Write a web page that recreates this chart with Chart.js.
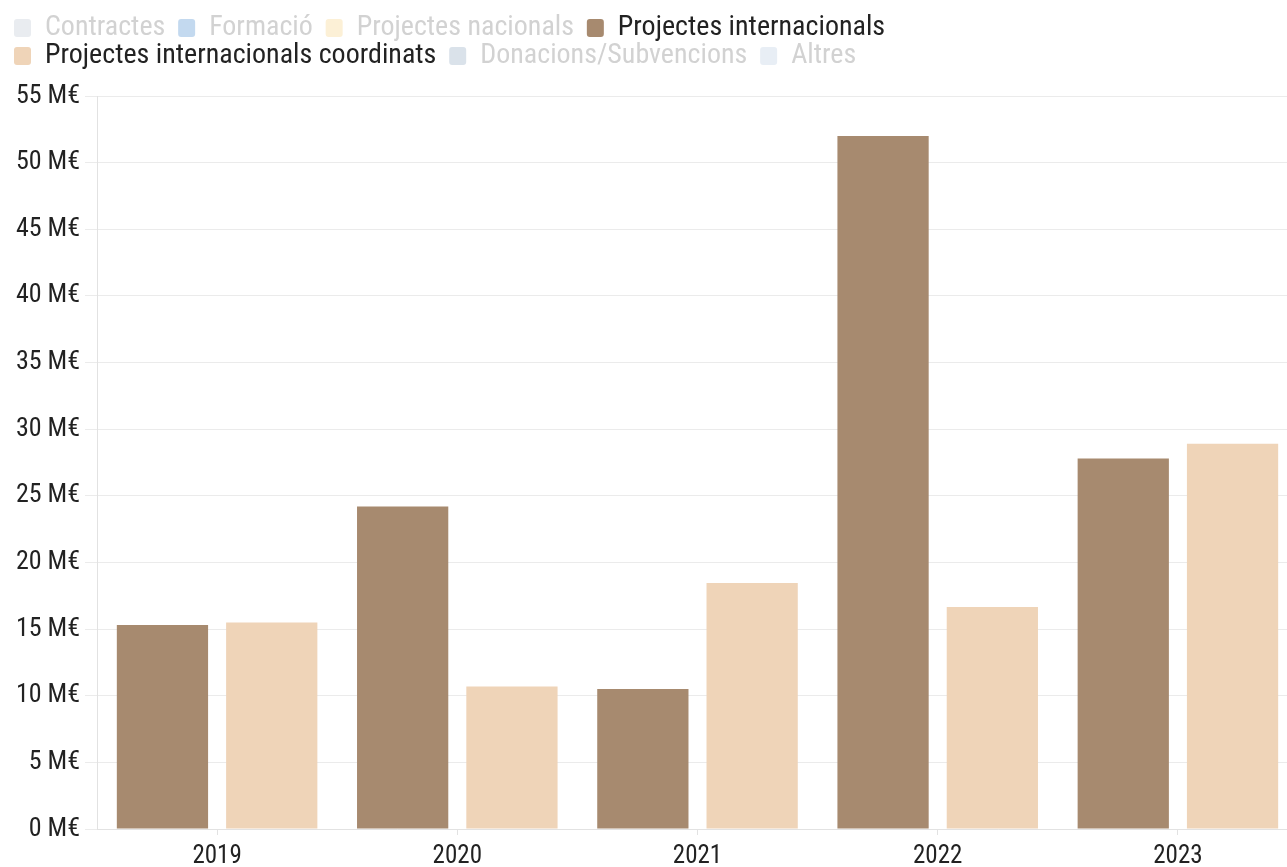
<!DOCTYPE html>
<html>
<head>
<meta charset="utf-8">
<script src="https://cdn.jsdelivr.net/npm/chart.js@4"></script>
<style>
  html, body { margin: 0; padding: 0; overflow: hidden; background: #fff; }
  #wrap { width: 1298px; height: 867px; }
</style>
</head>
<body>
<div id="wrap"><canvas id="myChart"></canvas></div>
<script>
const years = ["2019", "2020", "2021", "2022", "2023"];

// only these two series are shown in the picture
const internacionals = [15.3, 24.2, 10.5, 52.0, 27.8];
const coordinats = [15.5, 10.7, 18.45, 16.65, 28.9];

const seriesNames = [
  "Contractes", "Formació", "Projectes nacionals", "Projectes internacionals",
  "Projectes internacionals coordinats", "Donacions/Subvencions", "Altres"
];
const seriesColors = ["#e9ecf0", "#c3d9ef", "#fcf0d6", "#a78a6f", "#efd4b8", "#dae2ea", "#e8eef5"];
const hiddenSeries = [true, true, true, false, false, true, true];

const seriesData = [[], [], [], internacionals, coordinats, [], []];

const datasets = seriesNames.map((name, i) => ({
  label: name,
  data: seriesData[i],
  backgroundColor: seriesColors[i],
  borderWidth: 0,
  hidden: hiddenSeries[i]
}));

const family = "'Roboto Condensed', Roboto";

// extra room under the legend
const legendGap = {
  id: "legendGap",
  beforeInit(chart) {
    const fit = chart.legend.fit;
    chart.legend.fit = function () {
      fit.bind(chart.legend)();
      this.height += 16;
    };
  }
};

new Chart("myChart", {
  type: "bar",
  data: { labels: years, datasets: datasets },
  plugins: [legendGap],
  options: {
    responsive: true,
    maintainAspectRatio: false,
    animation: false,
    categoryPercentage: 0.91,
    barPercentage: 0.835,
    layout: { padding: { top: 14, bottom: 0, left: 14, right: 0 } },
    plugins: {
      tooltip: { enabled: false },
      legend: {
        position: "top",
        align: "start",
        labels: {
          font: { family: family, size: 28 },
          color: "#222",
          boxWidth: 17,
          boxHeight: 18,
          padding: 0,
          useBorderRadius: true,
          borderRadius: 3,
          generateLabels: (chart) => {
            const items = Chart.defaults.plugins.legend.labels.generateLabels(chart);
            return items.map((it) => {
              if (it.hidden) {
                it.fontColor = "#d2d2d2";
                it.hidden = false;
              }
              it.text = it.text + "  ";
              it.lineWidth = 0;
              return it;
            });
          }
        }
      }
    },
    scales: {
      x: {
        afterFit: (s) => { s.height = 38; },
        grid: { display: true, drawOnChartArea: false, offset: false, tickLength: 6, color: "#e2e2e2" },
        border: { color: "#e2e2e2" },
        ticks: { font: { family: family, size: 25 }, color: "#222", padding: 7 }
      },
      y: {
        min: 0,
        max: 55,
        afterFit: (s) => { s.width = 83; },
        grid: { color: "#ebebeb", tickLength: 12 },
        border: { color: "#e2e2e2" },
        ticks: {
          stepSize: 5,
          font: { family: family, size: 26 },
          color: "#222",
          padding: 5,
          callback: (v) => v + " M€"
        }
      }
    }
  }
});
</script>
</body>
</html>
